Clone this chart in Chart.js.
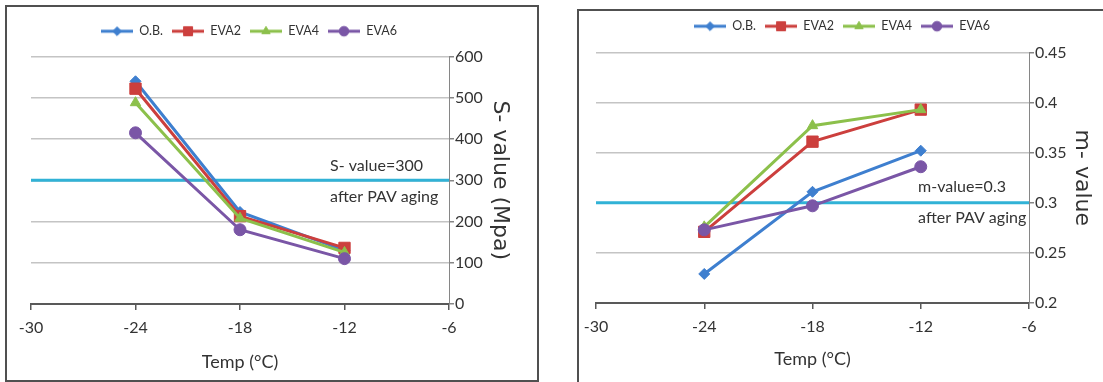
<!DOCTYPE html>
<html>
<head>
<meta charset="utf-8">
<script src="https://cdn.jsdelivr.net/npm/chart.js@4.4.1/dist/chart.umd.min.js"></script>
<style>
  html, body { margin: 0; padding: 0; background: #fff; overflow: hidden; width: 1103px; height: 382px; }
  .panel { position: absolute; border: 2px solid #505050; box-sizing: border-box; background: #fff; overflow: hidden; }
  #p1 { left: 5px; top: 5px; width: 534px; height: 377px; }
  #p2 { left: 577px; top: 9px; width: 560px; height: 400px; }
  canvas { position: absolute; left: 0; top: 0; }
</style>
</head>
<body>
<div class="panel" id="p1"><canvas id="sChart" width="528" height="372"></canvas></div>
<div class="panel" id="p2"><canvas id="mChart" width="524" height="371"></canvas></div>
<script>
// data
const temps = [-24, -18, -12];
const seriesNames = ['O.B.', 'EVA2', 'EVA4', 'EVA6'];

const sOB   = [540, 223, 130];
const sEVA2 = [522, 213, 136];
const sEVA4 = [488, 208, 125];
const sEVA6 = [415, 180, 110];

const mOB   = [0.229, 0.311, 0.352];
const mEVA2 = [0.271, 0.361, 0.393];
const mEVA4 = [0.276, 0.377, 0.393];
const mEVA6 = [0.273, 0.297, 0.336];

const xTicks = [-30, -24, -18, -12, -6];
const sTicks = [0, 100, 200, 300, 400, 500, 600];
const mTicks = [0.2, 0.25, 0.3, 0.35, 0.4, 0.45];

const sLimit = 300;
const mLimit = 0.3;
const sNotes = ['S- value=300', 'after PAV aging'];
const mNotes = ['m-value=0.3', 'after PAV aging'];

// styling
const seriesColors = ['#3E7FCF', '#CC3F3D', '#8CC04B', '#7A56A6'];
const seriesMarkers = ['rectRot', 'rect', 'triangle', 'circle'];
const markerSizes = [5.5, 8, 6, 6];
const limitColor = '#31B2D6';
const FONT = "Lato, 'Liberation Sans', sans-serif";
const TEXT = '#333333';

function legendSymbol(i) {
  const c = document.createElement('canvas');
  c.width = 32; c.height = 14;
  const g = c.getContext('2d');
  g.strokeStyle = seriesColors[i];
  g.fillStyle = seriesColors[i];
  g.lineWidth = 3;
  g.beginPath(); g.moveTo(0, 7); g.lineTo(32, 7); g.stroke();
  g.lineWidth = 1;
  Chart.helpers.drawPoint(g, { pointStyle: seriesMarkers[i], radius: markerSizes[i] * 0.8, borderWidth: 1 }, 16, 7);
  return c;
}
const legendImgs = seriesNames.map((n, i) => legendSymbol(i));

const legendShift = {
  id: 'legendShift',
  afterLayout(chart, args, opts) {
    const l = chart.legend;
    if (l && opts.dx) { l.left += opts.dx; l.right += opts.dx; }
  }
};

const notes = {
  id: 'notes',
  afterDatasetsDraw(chart, args, opts) {
    const { ctx, scales: { x, y } } = chart;
    ctx.save();
    ctx.font = '16px ' + FONT;
    ctx.fillStyle = TEXT;
    ctx.textBaseline = 'middle';
    ctx.textAlign = 'left';
    opts.lines.forEach((t, i) => ctx.fillText(t, x.getPixelForValue(opts.x), y.getPixelForValue(opts.y[i])));
    ctx.restore();
  }
};

function makeChart(id, cfg) {
  const datasets = cfg.values.map((vals, i) => ({
    label: seriesNames[i],
    data: temps.map((t, k) => ({ x: t, y: vals[k] })),
    borderColor: seriesColors[i],
    backgroundColor: seriesColors[i],
    borderWidth: 3,
    pointStyle: seriesMarkers[i],
    pointRadius: markerSizes[i],
    pointBorderWidth: 1,
    order: seriesNames.length - 1 - i
  }));
  datasets.push({
    label: 'limit',
    data: [{ x: xTicks[0], y: cfg.limit }, { x: xTicks[xTicks.length - 1], y: cfg.limit }],
    borderColor: limitColor,
    borderWidth: 3,
    pointRadius: 0,
    order: 10
  });

  return new Chart(document.getElementById(id), {
    type: 'line',
    data: { datasets },
    plugins: [legendShift, notes],
    options: {
      responsive: false,
      animation: false,
      layout: { padding: { left: cfg.padLeft, top: cfg.padTop, right: 0, bottom: 0 } },
      plugins: {
        tooltip: { enabled: false },
        legend: {
          position: 'top',
          fullSize: false,
          labels: {
            usePointStyle: true,
            pointStyleWidth: 32,
            padding: 9,
            color: TEXT,
            font: { family: FONT, size: 12.5 },
            sort: (a, b) => a.datasetIndex - b.datasetIndex,
            generateLabels(chart) {
              const items = Chart.defaults.plugins.legend.labels.generateLabels(chart);
              return items
                .filter(it => it.datasetIndex < seriesNames.length)
                .map(it => Object.assign(it, { pointStyle: legendImgs[it.datasetIndex] }));
            }
          }
        },
        title: {
          display: true, text: '', position: 'top', weight: 500,
          font: { size: 1, lineHeight: 1 },
          padding: { top: 0, bottom: cfg.gap }
        },
        legendShift: { dx: cfg.legendDx },
        notes: { lines: cfg.notes, x: cfg.noteX, y: cfg.noteY }
      },
      scales: {
        x: {
          type: 'linear',
          position: 'bottom',
          min: xTicks[0],
          max: xTicks[xTicks.length - 1],
          afterBuildTicks: s => { s.ticks = xTicks.map(v => ({ value: v })); },
          afterFit: s => { s.height = cfg.xAxisH; s.paddingLeft = 0; s.paddingRight = 0; },
          ticks: { color: TEXT, padding: 8, font: { family: FONT, size: 16 }, callback: v => String(v) },
          grid: { drawOnChartArea: false, drawTicks: true, tickLength: 6, color: '#595959', lineWidth: 1.5 },
          border: { color: '#595959', width: 2 },
          title: {
            display: true, text: 'Temp (°C)', color: TEXT,
            font: { family: FONT, size: 18 },
            padding: { top: 0, bottom: cfg.xTitlePad }
          }
        },
        y: {
          type: 'linear',
          position: 'right',
          min: cfg.ticks[0],
          max: cfg.ticks[cfg.ticks.length - 1],
          afterBuildTicks: s => { s.ticks = cfg.ticks.map(v => ({ value: v })); },
          afterFit: s => { s.width = cfg.yAxisW; },
          ticks: { color: TEXT, padding: 1, font: { family: FONT, size: 16 }, callback: v => String(+v.toFixed(2)) },
          grid: { color: '#C4C4C4', lineWidth: 1.5, tickLength: 5, tickColor: '#868686' },
          border: { color: '#868686', width: 1 },
          title: {
            display: true, text: cfg.yTitle, color: TEXT,
            font: { family: "'DejaVu Sans', sans-serif", size: 22 },
            padding: { top: cfg.yTitlePad, bottom: 0 }
          }
        }
      }
    }
  });
}

makeChart('sChart', {
  values: [sOB, sEVA2, sEVA4, sEVA6],
  ticks: sTicks, limit: sLimit, yTitle: 'S- value (Mpa)',
  notes: sNotes, noteX: -12.83, noteY: [335, 260],
  padLeft: 24, padTop: 9, gap: 8, legendDx: 9,
  xAxisH: 75, yAxisW: 86, xTitlePad: 6, yTitlePad: 22
});

makeChart('mChart', {
  values: [mOB, mEVA2, mEVA4, mEVA6],
  ticks: mTicks, limit: mLimit, yTitle: 'm- value',
  notes: mNotes, noteX: -12.15, noteY: [0.316, 0.285],
  padLeft: 17, padTop: 0, gap: 9, legendDx: 29.5,
  xAxisH: 79, yAxisW: 74, xTitlePad: 12, yTitlePad: 8
});
</script>
</body>
</html>
